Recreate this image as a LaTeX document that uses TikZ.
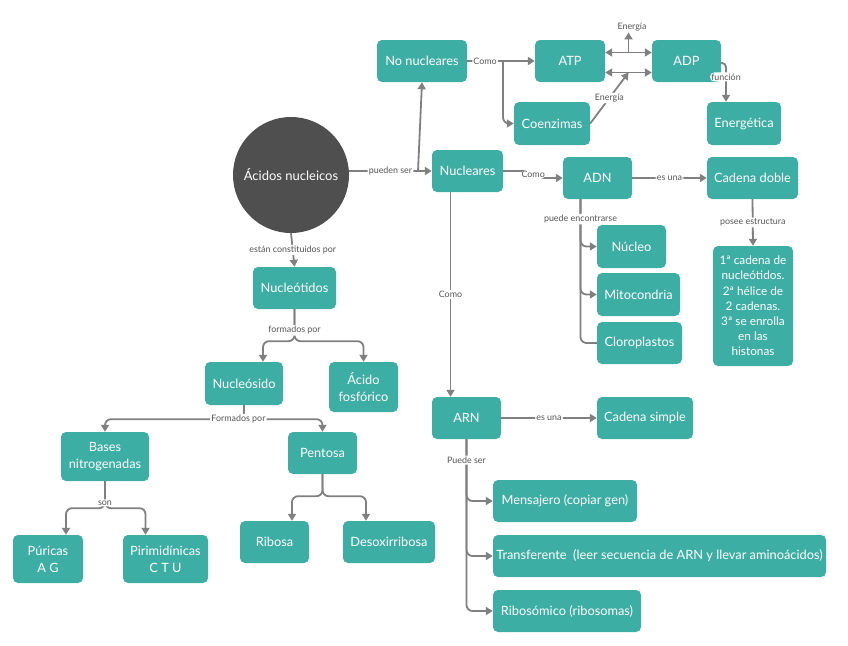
\documentclass[tikz,border=0pt]{standalone}
\usepackage{fontspec}
\setmainfont{Lato}
\usetikzlibrary{arrows.meta}
\definecolor{boxteal}{HTML}{3DAEA3}
\definecolor{linkgray}{HTML}{808080}
\definecolor{circlegray}{HTML}{4F4F4F}
\definecolor{lblgray}{HTML}{555555}

\begin{document}
\begin{tikzpicture}[x=1pt, y=-1pt,
  box/.style={fill=boxteal, text=white, rounded corners=5pt, inner sep=0pt, minimum height=42pt, align=center, font=\fontsize{12.8}{17}\selectfont},
  lbl/.style={fill=white, text=lblgray, inner sep=1.2pt, font=\fontsize{8.9}{10}\selectfont},
  link/.style={draw=linkgray, line width=1.8pt, rounded corners=6pt},
  arr/.style={link, -{Triangle[length=7pt,width=8pt]}},
  dbl/.style={link, {Triangle[length=7pt,width=8pt]}-{Triangle[length=7pt,width=8pt]}}]
  \useasboundingbox (0,0) rectangle (848,645);

  \node[circle, fill=circlegray, text=white, minimum size=116pt, inner sep=0pt, font=\fontsize{13}{15}\selectfont] (acidos) at (291,175) {Ácidos nucleicos};

  \node[box, minimum width=90pt] (nonuc) at (422,61) {No nucleares};
  \node[box, minimum width=70pt] (atp) at (570,61) {ATP};
  \node[box, minimum width=69pt] (adp) at (686.5,61) {ADP};
  \node[box, minimum width=76pt, minimum height=43pt] (coenz) at (552,123.5) {Coenzimas};
  \node[box, minimum width=74pt, minimum height=43pt] (energ) at (744,123.5) {Energética};
  \node[box, minimum width=71pt] (nucl) at (467.5,171) {Nucleares};
  \node[box, minimum width=69pt] (adn) at (597.5,178) {ADN};
  \node[box, minimum width=91pt] (cdoble) at (752.5,178) {Cadena doble};
  \node[box, minimum width=69pt, minimum height=43pt] (nucleo) at (631.5,246.5) {Núcleo};
  \node[box, minimum width=83pt, minimum height=43pt] (mito) at (638.5,294.5) {Mitocondria};
  \node[box, minimum width=85pt] (cloro) at (639.5,343) {Cloroplastos};
  \node[box, minimum width=80pt, minimum height=120pt, font=\fontsize{11.8}{15.2}\selectfont] (estruct) at (753,306)
    {1ª cadena de\\nucleótidos.\\2ª hélice de\\2 cadenas.\\3ª se enrolla\\en las\\histonas};
  \node[box, minimum width=83pt] (nucleot) at (294.5,288) {Nucleótidos};
  \node[box, minimum width=78pt, minimum height=43pt] (nucleos) at (244,383.5) {Nucleósido};
  \node[box, minimum width=69pt, minimum height=50pt] (fosf) at (363.5,387) {Ácido\\fosfórico};
  \node[box, minimum width=88pt, minimum height=49pt] (bases) at (105,456.5) {Bases\\nitrogenadas};
  \node[box, minimum width=69pt] (pentosa) at (322.5,453) {Pentosa};
  \node[box, minimum width=70pt, minimum height=48pt] (puricas) at (48,559) {Púricas\\A G};
  \node[box, minimum width=85pt, minimum height=48pt] (pirim) at (165.5,559) {Pirimidínicas\\C T U};
  \node[box, minimum width=69pt] (ribosa) at (274.5,542) {Ribosa};
  \node[box, minimum width=92pt] (desox) at (389,542) {Desoxirribosa};
  \node[box, minimum width=69pt] (arn) at (466.5,418) {ARN};
  \node[box, minimum width=96pt] (csimple) at (645,418) {Cadena simple};
  \node[box, minimum width=144pt] (mens) at (565,501) {Mensajero (copiar gen)};
  \node[box, minimum width=333pt] (transf) at (659.5,556) {Transferente \ (leer secuencia de ARN y llevar aminoácidos)};
  \node[box, minimum width=148pt] (ribos) at (567,611) {Ribosómico (ribosomas)};

  % upper half
  \coordinate (split) at (418,171);
  \draw[link] (acidos.east |- split) -- node[lbl, pos=0.6]{pueden ser} (split);
  \draw[arr] (split) -- (nucl.west);
  \draw[arr] (split) -- (nonuc.south);
  \coordinate (split2) at (503,61);
  \draw[link] (nonuc.east) -- node[lbl]{Como} (split2);
  \draw[arr] (split2) -- (atp.west);
  \draw[arr] (split2) |- (coenz.west);
  \draw[dbl] ([yshift=8.5pt]atp.east) -- coordinate (e1) ([yshift=8.5pt]adp.west);
  \draw[dbl] ([yshift=-11.5pt]atp.east) -- coordinate (e2) ([yshift=-11.5pt]adp.west);
  \node[lbl] (enlbl) at (632,27) {Energía};
  \draw[arr] (e1) -- (e1 |- enlbl.south);
  \draw[arr] (coenz.east) -- node[lbl]{Energía} (e2);
  \draw[arr, rounded corners=4pt] ([yshift=-2pt]adp.east) -| node[lbl, pos=0.68]{función} ([xshift=-18pt]energ.north);

  \draw[arr] (nucl.east) -- ([xshift=30pt]nucl.east) |- node[lbl, pos=0.25]{Como} (adn.west);
  \draw[arr] (adn.east) -- node[lbl]{es una} (cdoble.west);
  \draw[arr] (cdoble.south) -- node[lbl]{posee estructura} (estruct.north);
  \draw[link] ([xshift=-17pt]adn.south) |- (cloro.west);
  \draw[arr] ([xshift=-17pt]adn.south) |- (mito.west);
  \draw[arr] ([xshift=-17pt]adn.south) |- node[lbl, pos=0.21]{puede encontrarse} (nucleo.west);

  \draw[arr] ([xshift=-17pt]nucl.south) -- node[lbl]{Como} ([xshift=-16pt]arn.north);
  \draw[arr] (arn.east) -- node[lbl]{es una} (csimple.west);
  \draw[arr] (arn.south) |- (ribos.west);
  \draw[arr] (arn.south) |- (transf.west);
  \draw[arr] (arn.south) |- node[lbl, pos=0.17]{Puede ser} (mens.west);

  % lower half
  \draw[arr] (acidos.south) -- node[lbl]{están constituidos por} (nucleot.north);
  \draw[arr] (nucleot.south) -- ++(0,32) -| ([xshift=19pt]nucleos.north);
  \draw[arr] (nucleot.south) -- node[lbl, pos=0.66]{formados por} ++(0,32) -| (fosf.north);
  \draw[arr] (nucleos.south) -- ++(0,14) -| (pentosa.north);
  \draw[arr] (nucleos.south) -- ++(0,14) -| node[lbl, pos=0.02]{Formados por} (bases.north);
  \draw[arr] (bases.south) -- ++(0,27) -| ([xshift=18pt]puricas.north);
  \draw[arr] (bases.south) -- node[lbl, pos=0.8]{son} ++(0,27) -| ([xshift=-20pt]pirim.north);
  \draw[arr] (pentosa.south) -- ++(0,22) -| ([xshift=17.5pt]ribosa.north);
  \draw[arr] (pentosa.south) -- ++(0,22) -| ([xshift=-23pt]desox.north);
\end{tikzpicture}
\end{document}
